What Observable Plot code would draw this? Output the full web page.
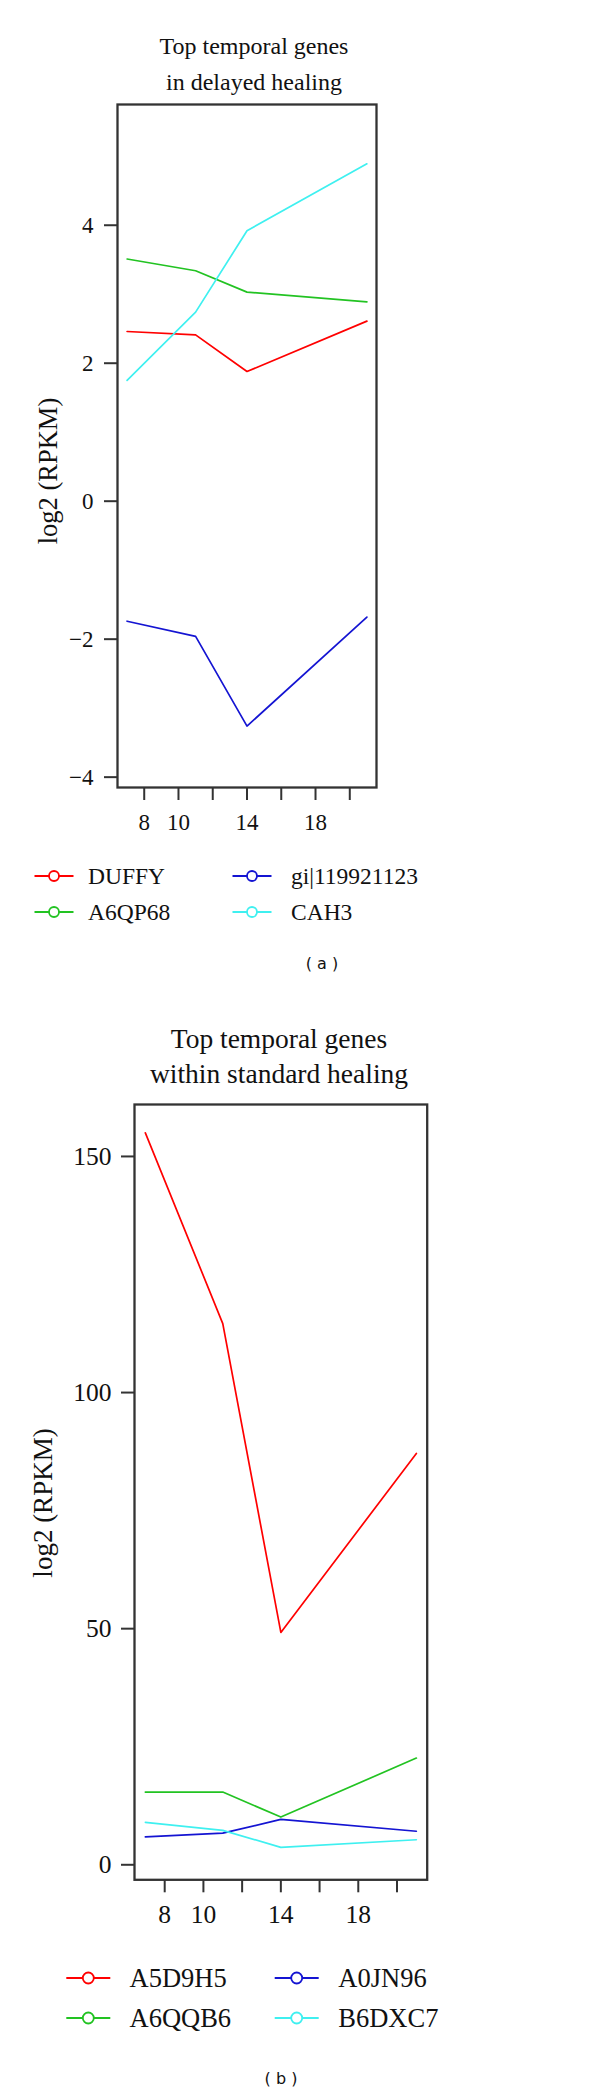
<!DOCTYPE html>
<html>
<head>
<meta charset="utf-8">
<script src="https://cdn.jsdelivr.net/npm/d3@7"></script>
<script src="https://cdn.jsdelivr.net/npm/@observablehq/plot@0.6"></script>
<style>
  html, body { margin: 0; padding: 0; background: #fff; }
  #page { position: relative; width: 600px; height: 2093px; overflow: hidden; background: #fff; }
  .panel { position: absolute; left: 0; }
  #overlay { position: absolute; left: 0; top: 0; pointer-events: none; }
</style>
</head>
<body>
<div id="page">
  <div class="panel" id="panelA" style="top:0px"></div>
  <div class="panel" id="panelB" style="top:1000px"></div>
  <svg id="overlay" width="600" height="2093"></svg>
</div>
<script>
// ---------- data ----------
const days = [7, 11, 14, 21];
const xTicks = [8, 10, 12, 14, 16, 18, 20];
const xTickLabels = [8, 10, 14, 18];
const seriesColors = ["#ff0000", "#22c322", "#1414d2", "#3ff0f0"];

// (a) delayed healing
const genesA = ["DUFFY", "A6QP68", "gi|119921123", "CAH3"];
const duffy = [2.46, 2.41, 1.88, 2.61];
const a6qp68 = [3.51, 3.34, 3.03, 2.89];
const gi119921123 = [-1.74, -1.96, -3.26, -1.68];
const cah3 = [1.75, 2.74, 3.92, 4.89];
const yTicksA = [-4, -2, 0, 2, 4];

// (b) standard healing
const genesB = ["A5D9H5", "A6QQB6", "A0JN96", "B6DXC7"];
const a5d9h5 = [155.0, 114.6, 49.2, 87.1];
const a6qqb6 = [15.4, 15.4, 10.1, 22.6];
const a0jn96 = [5.9, 6.7, 9.6, 7.1];
const b6dxc7 = [9.0, 7.3, 3.7, 5.3];
const yTicksB = [0, 50, 100, 150];

const titleA = ["Top temporal genes", "in delayed healing"];
const titleB = ["Top temporal genes", "within standard healing"];
const yLabel = "log2 (RPKM)";
const captions = ["( a )", "( b )"];

// ---------- tidy tables ----------
function tidy(genes, series) {
  const rows = [];
  genes.forEach((g, i) => series[i].forEach((v, j) => rows.push({gene: g, day: days[j], value: v})));
  return rows;
}
const dataA = tidy(genesA, [duffy, a6qp68, gi119921123, cah3]);
const dataB = tidy(genesB, [a5d9h5, a6qqb6, a0jn96, b6dxc7]);

const serif = "'Liberation Serif', 'DejaVu Serif', serif";

function panel(data, genes, cfg) {
  return Plot.plot({
    width: 600,
    height: cfg.height,
    marginTop: cfg.mt, marginBottom: cfg.mb, marginLeft: cfg.ml, marginRight: cfg.mr,
    x: {domain: [6.44, 21.56]},
    y: {domain: cfg.ydomain},
    color: {domain: genes, range: seriesColors},
    style: {fontFamily: serif, fontSize: cfg.fs + "px", color: "#111", background: "transparent"},
    marks: [
      Plot.axisY({ticks: cfg.yticks, tickSize: 13, tickPadding: cfg.ypad, label: null,
                  strokeWidth: 2, stroke: "#333", fontSize: cfg.fs}),
      Plot.axisX({ticks: xTicks, tickFormat: d => xTickLabels.includes(d) ? String(d) : "",
                  tickSize: 13, tickPadding: cfg.xpad, label: null, strokeWidth: 2, stroke: "#333", fontSize: cfg.fs}),
      Plot.line(data, {x: "day", y: "value", z: "gene", stroke: "gene", strokeWidth: 1.7}),
      Plot.frame({stroke: "#333", strokeWidth: 2.3})
    ]
  });
}

document.getElementById("panelA").appendChild(panel(dataA, genesA, {
  height: 850, mt: 104, mb: 63, ml: 117, mr: 224, ydomain: [-4.15, 5.75],
  yticks: yTicksA, fs: 23, ypad: 11, xpad: 13
}));
document.getElementById("panelB").appendChild(panel(dataB, genesB, {
  height: 940, mt: 104, mb: 60.7, ml: 134, mr: 173.3, ydomain: [-3.18, 161],
  yticks: yTicksB, fs: 25.5, ypad: 10, xpad: 12
}));

// ---------- overlay: titles, y labels, legends, captions ----------
const ov = d3.select("#overlay");
function title(lines, cx, y0, gap, fs) {
  lines.forEach((t, i) => ov.append("text").attr("x", cx).attr("y", y0 + i * gap)
    .attr("text-anchor", "middle").attr("font-family", serif).attr("font-size", fs)
    .attr("fill", "#111").text(t));
}
title(titleA, 254, 54, 36, 24);
title(titleB, 279, 1048, 35, 27.5);

function ylab(x, y, fs) {
  ov.append("text").attr("transform", `translate(${x},${y}) rotate(-90)`)
    .attr("text-anchor", "middle").attr("font-family", serif).attr("font-size", fs)
    .attr("fill", "#111").text(yLabel);
}
ylab(57, 471, 26.5);
ylab(52, 1503, 27);

function legend(genes, cfg) {
  genes.forEach((g, i) => {
    const col = Math.floor(i / 2), row = i % 2;
    const cx = cfg.cx[col], y = cfg.y[row];
    const gg = ov.append("g");
    gg.append("line").attr("x1", cx - cfg.half).attr("x2", cx + cfg.half).attr("y1", y).attr("y2", y)
      .attr("stroke", seriesColors[i]).attr("stroke-width", 1.8);
    gg.append("circle").attr("cx", cx).attr("cy", y).attr("r", cfg.r)
      .attr("fill", "#fff").attr("stroke", seriesColors[i]).attr("stroke-width", 1.8);
    gg.append("text").attr("x", cfg.tx[col]).attr("y", y + cfg.fs * 0.34)
      .attr("font-family", serif).attr("font-size", cfg.fs).attr("fill", "#111").text(g);
  });
}
legend(genesA, {cx: [54, 252], y: [876, 912], half: 19.5, r: 5, tx: [88, 291], fs: 23.5});
legend(genesB, {cx: [88.3, 296.7], y: [1978, 2018], half: 22, r: 5.5, tx: [129.5, 338.3], fs: 26.5});

function caption(t, cx, y) {
  ov.append("text").attr("x", cx).attr("y", y).attr("text-anchor", "middle")
    .attr("font-family", "'DejaVu Sans', sans-serif").attr("font-size", 16)
    .attr("fill", "#111").attr("xml:space", "preserve").text(t);
}
caption(captions[0], 322, 969);
caption(captions[1], 281, 2084);
</script>
</body>
</html>
